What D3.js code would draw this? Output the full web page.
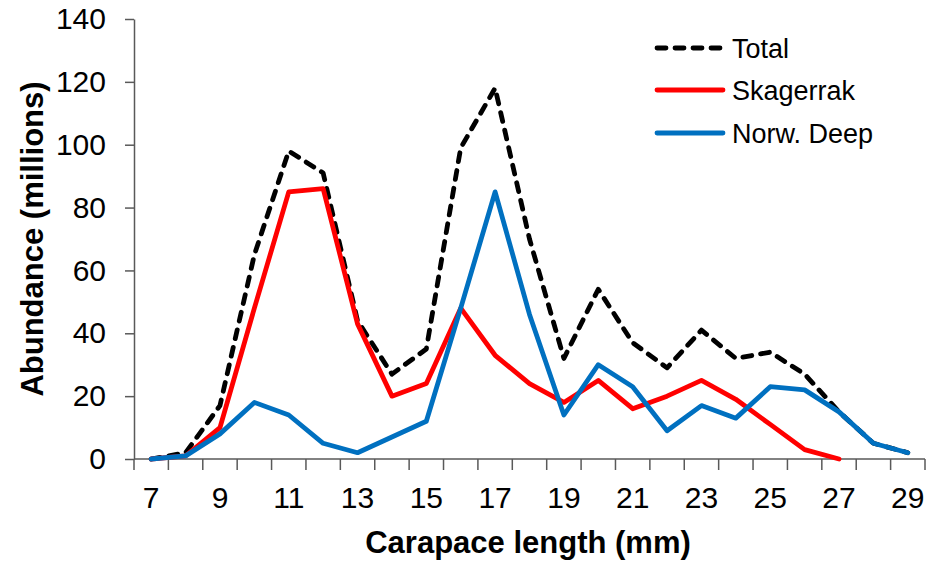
<!DOCTYPE html>
<html>
<head>
<meta charset="utf-8">
<script src="https://cdn.jsdelivr.net/npm/d3@7"></script>
<style>
  html, body { margin: 0; padding: 0; background: #fff; }
  svg { display: block; font-family: "Liberation Sans", Arial, sans-serif; }
</style>
</head>
<body>
<svg id="chart" width="930" height="565"></svg>
<script>
const categories = [7,8,9,10,11,12,13,14,15,16,17,18,19,20,21,22,23,24,25,26,27,28,29];
const total     = [0,2,17,65,98,91,44,27,35,99,118,70,32,54,37,29,41,32,34,27,15,5,2];
const skagerrak = [0,1,10,48,85,86,43,20,24,48,33,24,18,25,16,20,25,19,11,3,0];
const norwDeep  = [0,1,8,18,14,5,2,7,12,48,85,46,14,30,23,9,17,13,23,22,15,5,2];
const yTicks = [0,20,40,60,80,100,120,140];
const xLabels = [7,9,11,13,15,17,19,21,23,25,27,29];
const seriesNames = ["Total","Skagerrak","Norw. Deep"];

(function () {
const svg = d3.select("#chart");
const pl = 134, pr = 925, pt = 19, pb = 459;

const x = d3.scaleBand().domain(categories).range([pl, pr]).padding(0);
const y = d3.scaleLinear().domain([0, 140]).range([pb, pt]);

// Y axis
const yAxis = d3.axisLeft(y).tickValues(yTicks).tickSize(9).tickPadding(19).tickSizeOuter(0);
const gy = svg.append("g").attr("transform", `translate(${pl},0)`).call(yAxis);
gy.select(".domain").attr("stroke", "#595959").attr("stroke-width", 1.5);
gy.selectAll(".tick line").attr("stroke", "#595959").attr("stroke-width", 1.5);
gy.selectAll(".tick text").attr("font-size", 30).attr("fill", "#000")
  .attr("font-family", "Liberation Sans, Arial, sans-serif");

// X axis with ticks at band boundaries
const gx = svg.append("g").attr("transform", `translate(0,${pb})`);
gx.append("line").attr("x1", pl).attr("x2", pr).attr("y1", 0).attr("y2", 0)
  .attr("stroke", "#595959").attr("stroke-width", 1.5);
const boundaries = categories.map(c => x(c)).concat([pr]);
gx.selectAll("line.tk").data(boundaries).enter().append("line").attr("class","tk")
  .attr("x1", d => d).attr("x2", d => d).attr("y1", 0).attr("y2", 11)
  .attr("stroke", "#595959").attr("stroke-width", 1.5);
gx.selectAll("text.lbl").data(xLabels).enter().append("text").attr("class","lbl")
  .attr("x", d => x(d) + x.bandwidth()/2).attr("y", 49)
  .attr("text-anchor", "middle").attr("font-size", 30).attr("fill", "#000")
  .text(d => d);

// Axis titles
svg.append("text").attr("x", 528).attr("y", 553).attr("text-anchor", "middle")
  .attr("font-size", 31).attr("font-weight", "bold").text("Carapace length (mm)");
svg.append("text").attr("transform", "translate(43,239) rotate(-90)").attr("text-anchor", "middle")
  .attr("font-size", 31).attr("font-weight", "bold").text("Abundance (millions)");

const cx = (d, i) => x(categories[i]) + x.bandwidth()/2;
const line = d3.line().x(cx).y(d => y(d));

const series = [
  {name: seriesNames[0], data: total, color: "#000000", dash: "9,9"},
  {name: seriesNames[1], data: skagerrak, color: "#FF0000", dash: null},
  {name: seriesNames[2], data: norwDeep, color: "#0070C0", dash: null}
];

series.forEach(s => {
  svg.append("path").datum(s.data).attr("d", line)
    .attr("fill", "none").attr("stroke", s.color).attr("stroke-width", 4.8)
    .attr("stroke-linejoin", "round").attr("stroke-linecap", "round")
    .attr("stroke-dasharray", s.dash);
});

// Legend
const legY = [48, 90, 133];
series.forEach((s, i) => {
  svg.append("line").attr("x1", 657).attr("x2", 723).attr("y1", legY[i]).attr("y2", legY[i])
    .attr("stroke", s.color).attr("stroke-width", 4.8).attr("stroke-linecap", "round")
    .attr("stroke-dasharray", s.dash);
  svg.append("text").attr("x", 732).attr("y", legY[i] + 10).attr("font-size", 27)
    .attr("fill", "#000").text(s.name);
});
})();
</script>
</body>
</html>
